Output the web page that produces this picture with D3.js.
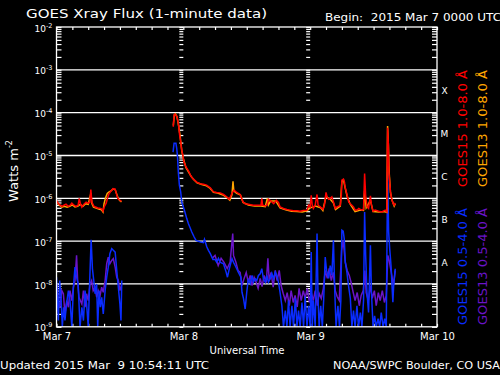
<!DOCTYPE html>
<html lang="en">
<head>
<meta charset="UTF-8">
<title>GOES Xray Flux</title>
<script src="https://d3js.org/d3.v7.min.js"></script>
<style>
  body { margin: 0; background: #000; }
  svg { display: block; }
  text { font-family: "DejaVu Sans", sans-serif; fill: #fff; white-space: pre; }
</style>
</head>
<body>
<div id="chart"></div>
<script>
// [hours after 2015-03-07 00:00 UTC, flux W/m2]; null = data gap
const goes15Long = [[0,9.0e-7],[0.3,7.7e-7],[0.7,6.9e-7],[1.0,6.5e-7],[1.4,6.9e-7],[1.8,7.3e-7],[2.2,6.5e-7],[2.6,6.9e-7],[2.9,7.7e-7],[3.3,6.9e-7],[3.7,6.5e-7],[4.1,6.9e-7],[4.3,1.0e-6],[4.5,7.7e-7],[4.8,6.2e-7],[5.2,7.3e-7],[5.6,8.1e-7],[6.0,7.7e-7],[6.3,8.1e-7],[6.5,1.6e-6],[6.7,8.1e-7],[7.1,6.5e-7],[7.5,6.2e-7],[7.9,5.9e-7],[8.2,5.9e-7],[8.6,5.6e-7],[8.8,5.0e-7],[9.0,6.2e-7],[9.4,7.7e-7],[9.7,1.06e-6],[9.9,1.25e-6],[10.3,1.47e-6],[10.7,1.68e-6],[11.1,1.63e-6],[11.3,1.32e-6],[11.6,1.0e-6],[12.0,9.0e-7],[12.3,8.5e-7],
  [17,null],
  [22.1,4.7e-5],[22.25,8.8e-5],[22.4,9.2e-5],[22.8,8.1e-5],[23.1,5.2e-5],[23.3,3.0e-5],[23.5,2.1e-5],[23.7,1.34e-5],[23.9,1.02e-5],[24.1,7.1e-6],[24.5,5.4e-6],[25.0,4.3e-6],[25.4,3.35e-6],[25.9,2.8e-6],[26.6,2.35e-6],[27.2,2.2e-6],[27.8,2.14e-6],[28.4,2.03e-6],[29.1,1.75e-6],[29.7,1.41e-6],[30.3,1.37e-6],[31.0,1.34e-6],[31.6,1.23e-6],[32.2,1.08e-6],[32.7,9.5e-7],[33.2,1.3e-6],[33.6,1.55e-6],[34.1,1.37e-6],[34.75,1.23e-6],[35.3,8.2e-7],[35.7,7.5e-7],[36.3,7.3e-7],[37.2,6.9e-7],[37.9,6.9e-7],[38.7,6.9e-7],[38.85,1.0e-6],[39.0,6.9e-7],[39.5,6.6e-7],[39.8,6.9e-7],[40.15,9.5e-7],[40.4,9.0e-7],[41.1,7.5e-7],[41.6,9.0e-7],[42.0,8.0e-7],[42.3,6.3e-7],[42.95,5.8e-7],[43.6,5.5e-7],[44.2,5.3e-7],[44.85,5.1e-7],[45.5,5.1e-7],[46.1,5.0e-7],[46.7,5.2e-7],[47.4,5.3e-7],[47.7,6.9e-7],[48.0,6.3e-7],[48.2,1.18e-6],[48.4,6.9e-7],[48.6,5.8e-7],[48.95,6.9e-7],[49.3,1.23e-6],[49.5,6.9e-7],[49.9,6.3e-7],[50.4,5.5e-7],[50.7,6.9e-7],[51.0,1.37e-6],[51.2,1.08e-6],[51.5,9.5e-7],[51.8,1.0e-6],[52.1,1.08e-6],[52.4,8.2e-7],[52.75,5.8e-7],[53.1,6.3e-7],[53.4,6.6e-7],[53.7,6.9e-7],[53.9,1.18e-6],[54.0,2.65e-6],[54.3,2.8e-6],[54.5,2.38e-6],[54.6,1.85e-6],[55.0,1.18e-6],[55.3,8.2e-7],[55.6,7.5e-7],[55.9,6.9e-7],[56.2,6.3e-7],[56.5,5.3e-7],[56.9,5.3e-7],[57.2,5.8e-7],[57.5,5.5e-7],[57.8,5.3e-7],[58.1,5.5e-7],[58.3,3.8e-6],[58.5,1.18e-6],[58.75,6.3e-7],[59.05,5.8e-7],[59.4,1.14e-6],[59.6,6.9e-7],[59.9,5.0e-7],[60.3,5.3e-7],[60.95,5.0e-7],[61.6,4.8e-7],[62.2,5.3e-7],[62.5,4.8e-7],[62.65,4.45e-5],[62.8,1.75e-5],[62.9,4.15e-6],[63.2,1.41e-6],[63.4,9.9e-7],[63.7,7.5e-7],[63.9,6.9e-7],[64.1,7.8e-7]]

const goes13Long = [[0,8.5e-7],[0.5,7.0e-7],[1.0,6.2e-7],[1.5,6.5e-7],[2.0,6.2e-7],[2.5,6.5e-7],[3.0,7.0e-7],[3.5,6.3e-7],[4.0,6.5e-7],[4.5,7.2e-7],[5.0,6.5e-7],[5.5,7.5e-7],[6.0,7.2e-7],[6.5,1.3e-6],[6.7,7.5e-7],[7.0,6.2e-7],[7.5,5.9e-7],[8.0,5.6e-7],[8.5,5.4e-7],[8.8,4.8e-7],[9.0,7.5e-7],[9.3,1.05e-6],[9.6,1.3e-6],[9.9,1.4e-6],[10.3,1.5e-6],[10.7,1.65e-6],[11.1,1.6e-6],[11.4,1.25e-6],[11.7,9.8e-7],[12.0,8.8e-7],[12.3,8.2e-7],
  [17,null],
  [22.1,5.0e-5],[22.3,9.0e-5],[22.5,9.4e-5],[22.8,8.0e-5],[23.1,5.0e-5],[23.4,2.8e-5],[23.7,1.3e-5],[24.0,8.5e-6],[24.5,5.2e-6],[25.0,4.1e-6],[25.5,3.2e-6],[26.0,2.7e-6],[26.6,2.3e-6],[27.5,2.1e-6],[28.4,1.95e-6],[29.1,1.7e-6],[29.7,1.38e-6],[30.5,1.33e-6],[31.5,1.2e-6],[32.2,1.05e-6],[32.8,9.0e-7],[33.2,1.2e-6],[33.4,2.5e-6],[33.55,1.5e-6],[34.1,1.3e-6],[34.8,1.2e-6],[35.3,8.0e-7],[36.3,7.0e-7],[37.5,6.6e-7],[38.7,6.6e-7],[39.5,6.4e-7],[39.9,1.0e-6],[40.1,7.0e-7],[40.5,8.6e-7],[41.5,8.6e-7],[42.3,6.0e-7],[43.5,5.3e-7],[44.5,5.0e-7],[45.5,4.9e-7],[46.5,4.8e-7],[47.4,5.1e-7],[48.0,6.0e-7],[49.0,6.6e-7],[50.0,6.0e-7],[50.4,5.2e-7],[51.0,1.1e-6],[51.8,9.5e-7],[52.4,7.8e-7],[52.8,5.5e-7],[53.7,6.6e-7],[54.0,2.5e-6],[54.3,2.7e-6],[54.6,1.8e-6],[55.0,1.1e-6],[55.6,7.2e-7],[56.5,4.9e-7],[57.5,5.3e-7],[58.1,5.2e-7],[58.3,1.5e-6],[58.6,6.0e-7],[59.4,9.0e-7],[59.9,4.9e-7],[61.0,4.8e-7],[62.0,4.9e-7],[62.5,4.7e-7],[62.65,4.9e-5],[62.8,1.8e-5],[62.95,4.0e-6],[63.2,1.35e-6],[63.5,9.0e-7],[63.9,6.6e-7],[64.1,7.4e-7]]

const goes15Short = [[0,1.44e-8],[0.1,7.0e-9],[0.35,1.4e-9],[0.6,1.2e-8],[0.85,4.9e-9],[1.1,1.0e-9],[1.35,2.86e-9],[1.6,1.4e-9],[1.9,3.4e-9],[2.25,7.0e-9],[2.55,4.1e-9],[2.9,1.0e-9],[3.2,8.4e-9],[3.5,2.47e-8],[3.8,1.44e-8],[4.1,1.0e-8],[4.45,1.0e-9],[4.8,2.86e-9],[5.1,1.4e-9],[5.4,7.0e-9],[5.7,3.4e-9],[6.0,1.0e-9],[6.35,2.07e-8],[6.55,1.08e-7],[6.8,2.27e-8],[7.05,1.2e-8],[7.3,5.9e-9],[7.6,1.0e-8],[7.8,1.0e-9],[8.05,7.0e-9],[8.3,2.86e-9],[8.55,4.9e-9],[8.85,2.0e-9],[9.2,7.0e-9],[9.5,1.44e-8],[9.8,2.47e-8],[10.1,5.1e-8],[10.45,6.7e-8],[10.75,6.1e-8],[11.1,5.55e-8],[11.4,2.07e-8],[11.7,8.4e-9],[12.0,3.4e-9],[12.2,1.4e-9],[12.35,1.2e-8],
  [17,null],
  [22.05,1.2e-5],[22.25,1.92e-5],[22.6,1.92e-5],[22.75,1.47e-5],[22.9,9.3e-6],[23.05,4.15e-6],[23.25,2.03e-6],[23.5,1.41e-6],[23.7,8.2e-7],[24.0,6.3e-7],[24.3,4.8e-7],[24.65,3.36e-7],[24.95,2.57e-7],[25.3,2.03e-7],[25.6,1.63e-7],[26.05,1.25e-7],[26.4,1.04e-7],[26.85,9.9e-8],[27.3,9.5e-8],[27.8,9.2e-8],[28.0,1.1e-7],[28.45,7.3e-8],[28.75,6.1e-8],[29.1,5.1e-8],[29.6,3.75e-8],[30.0,3.75e-8],[30.3,3.24e-8],[30.65,3.96e-8],[30.95,3.24e-8],[31.6,2.97e-8],[32.1,1.89e-8],[32.35,1.44e-8],[32.7,2.27e-8],[33.2,3.9e-8],[33.5,3.2e-8],[33.8,2.7e-8],[34.1,2.27e-8],[34.4,1.89e-8],[34.9,1.44e-8],[35.1,6.4e-9],[35.4,4.5e-9],[35.7,2.6e-9],[36.0,6.4e-9],[36.3,1.32e-8],[36.65,1.03e-8],[37.0,1.58e-8],[37.25,1.1e-8],[37.6,1.32e-8],[37.9,1.2e-8],[38.2,1.58e-8],[38.55,1.73e-8],[38.85,2.27e-8],[39.15,1.32e-8],[39.5,1.1e-8],[39.8,1.58e-8],[40.1,1.1e-8],[40.45,1.32e-8],[40.75,1.76e-8],[41.05,1.32e-8],[41.4,1.89e-8],[41.7,1.58e-8],[42.0,1.1e-8],[42.3,6.4e-9],[42.65,3.1e-9],[42.95,1.0e-9],[43.3,2.4e-9],[43.6,1.0e-9],[43.9,4.1e-9],[44.2,1.0e-9],[44.55,3.1e-9],[44.85,1.0e-9],[45.2,4.6e-9],[45.5,1.0e-9],[45.8,2.4e-9],[46.1,1.0e-9],[46.45,3.7e-9],[46.75,1.0e-9],[47.05,5.1e-9],[47.4,1.0e-9],[47.7,3.1e-9],[48.0,1.0e-9],[48.2,5.55e-8],[48.4,1.0e-9],[48.6,4.1e-9],[48.95,1.0e-9],[49.3,1.5e-7],[49.5,4.1e-9],[49.7,1.0e-9],[50.0,3.1e-9],[50.3,1.0e-9],[50.55,4.1e-9],[50.85,4.25e-8],[51.1,2.07e-8],[51.5,1.35e-8],[51.8,2.7e-8],[52.1,1.58e-8],[52.4,1.05e-7],[52.65,7.0e-9],[52.9,1.0e-9],[53.25,3.1e-9],[53.55,1.0e-9],[53.8,4.1e-9],[54.0,1.79e-7],[54.25,1.7e-7],[54.45,1.14e-7],[54.65,3.24e-8],[54.95,1.89e-8],[55.25,9.2e-9],[55.6,4.6e-9],[55.9,1.0e-9],[56.2,2.4e-9],[56.5,1.0e-9],[56.85,3.1e-9],[57.15,1.0e-9],[57.5,2.15e-9],[57.8,1.0e-9],[58.1,4.1e-9],[58.3,4.8e-7],[58.5,4.65e-8],[58.75,6.3e-9],[59.05,2.15e-9],[59.4,8.0e-8],[59.6,6.3e-9],[59.9,1.0e-9],[60.2,1.8e-9],[60.5,1.0e-9],[60.85,1.55e-9],[61.15,1.0e-9],[61.45,2.15e-9],[61.8,1.0e-9],[62.1,1.55e-9],[62.4,1.0e-9],[62.65,4.15e-6],[62.85,1.63e-7],[63.05,6.7e-8],[63.3,2.7e-8],[63.55,6.4e-9],[63.65,3.75e-9],[63.8,9.2e-9],[64.1,2.27e-8]]

const goes13Short = [[0.05,1.0e-8],[0.35,4.1e-9],[0.65,2.86e-9],[1.0,7.0e-9],[1.3,5.9e-9],[1.6,2.0e-9],[1.95,4.1e-9],[2.25,2.86e-9],[2.55,7.0e-9],[2.9,4.1e-9],[3.2,8.4e-9],[3.5,1.2e-8],[3.8,4.65e-8],[4.0,1.2e-8],[4.25,4.9e-9],[4.8,3.4e-9],[5.1,7.0e-9],[5.4,2.86e-9],[5.7,5.9e-9],[6.0,4.1e-9],[6.35,1.0e-8],[6.65,1.2e-8],[6.95,7.0e-9],[7.3,8.4e-9],[7.6,4.9e-9],[7.9,7.0e-9],[8.25,5.4e-9],[8.55,8.4e-9],[8.85,6.4e-9],[9.2,1.2e-8],[9.5,2.97e-8],[9.8,4.25e-8],[10.1,2.97e-8],[10.45,3.55e-8],[10.75,3.9e-8],[11.1,2.47e-8],[11.4,1.44e-8],[11.7,1.2e-8],[12.0,7.0e-9],[12.35,1.0e-8],
  [20,null],
  [29.45,3.96e-8],[30.0,4.65e-8],[30.6,2.7e-8],[31.15,3.96e-8],[31.7,3.2e-8],[32.3,2.3e-8],[32.85,3.2e-8],[33.35,1.5e-7],[33.5,4.65e-8],[33.95,3.2e-8],[34.35,2.07e-8],[34.75,1.86e-8],[35.1,9.2e-9],[35.5,1.35e-8],[35.9,1.86e-8],[36.3,1.08e-8],[36.65,1.58e-8],[37.0,9.2e-9],[37.4,1.42e-8],[37.8,1.08e-8],[38.15,7.9e-9],[38.55,1.35e-8],[38.9,8.7e-9],[39.3,1.58e-8],[39.7,1.08e-8],[40.0,3.96e-8],[40.25,1.2e-8],[40.6,1.86e-8],[41.0,8.4e-9],[41.4,2.07e-8],[41.75,1.2e-8],[42.15,2.07e-8],[42.5,9.2e-9],[42.9,6.0e-9],[43.3,4.1e-9],[43.65,6.3e-9],[44.05,3.1e-9],[44.4,7.0e-9],[44.8,3.7e-9],[45.15,5.4e-9],[45.55,2.9e-9],[45.9,7.9e-9],[46.3,4.1e-9],[46.7,7.0e-9],[47.05,4.6e-9],[47.45,7.9e-9],[47.85,3.7e-9],[48.2,6.3e-9],[48.6,4.1e-9],[48.95,7.0e-9],[49.35,3.1e-9],[49.7,6.0e-9],[50.1,4.6e-9],[50.5,7.9e-9],[50.85,2.07e-8],[51.25,1.35e-8],[51.6,2.3e-8],[52.0,1.2e-8],[52.35,1.86e-8],[52.75,7.0e-9],[53.1,5.1e-9],[53.5,4.1e-9],[53.95,6.1e-8],[54.25,1.04e-7],[54.65,3.2e-8],[55.0,2.07e-8],[55.4,1.58e-8],[55.75,1.08e-8],[56.15,6.3e-9],[56.5,4.1e-9],[56.9,6.3e-9],[57.3,3.1e-9],[57.65,5.4e-9],[58.05,7.0e-9],[58.35,2.07e-8],[58.6,6.3e-9],[59.0,4.1e-9],[59.4,9.2e-9],[59.75,4.6e-9],[60.15,7.0e-9],[60.5,3.1e-9],[60.9,6.3e-9],[61.25,4.1e-9],[61.65,7.0e-9],[62.05,3.7e-9],[62.4,5.4e-9],[62.7,4.65e-8],[62.95,3.55e-8],[63.35,1.86e-8],[63.75,9.2e-9],[64.1,2.07e-8]]

const dayLabels = ["Mar 7", "Mar 8", "Mar 9", "Mar 10"]
const classLetters = ["A", "B", "C", "M", "X"]
const legendItems = [
  {name: "GOES15 1.0-8.0 \u00c5", color: "#ff0000"},
  {name: "GOES13 1.0-8.0 \u00c5", color: "#ffa500"},
  {name: "GOES15 0.5-4.0 \u00c5", color: "#0a2cff"},
  {name: "GOES13 0.5-4.0 \u00c5", color: "#6a14c8"}
]

const width = 500, height = 375
const x0 = 56.5, x1 = 437, y0 = 27, y1 = 326.8
const start = Date.UTC(2015, 2, 7)
const toDate = h => new Date(start + h * 3600e3)

const x = d3.scaleUtc().domain([toDate(0), toDate(72)]).range([x0, x1])
const y = d3.scaleLog().domain([1e-9, 1e-2]).range([y1, y0])

const decades = d3.range(-9, -1).map(k => Math.pow(10, k))
const minorTicks = d3.range(-9, -2).flatMap(k => d3.range(1, 10).map(m => m * Math.pow(10, k))).concat([1e-2])

const svg = d3.select("#chart").append("svg")
  .attr("width", width).attr("height", height)
  .style("background", "#000")

svg.append("defs").append("clipPath").attr("id", "plot")
  .append("rect").attr("x", x0).attr("y", y0).attr("width", x1 - x0).attr("height", y1 - y0)

// grid lines
svg.append("g").selectAll("line")
  .data(decades.filter(d => d > 1e-9 && d < 1e-2))
  .enter().append("line")
  .attr("x1", x0).attr("x2", x1)
  .attr("y1", d => y(d)).attr("y2", d => y(d))
  .attr("stroke", "#fff").attr("stroke-width", 1.3)

function styleAxis(g) {
  g.select(".domain").remove()
  g.selectAll(".tick line").attr("stroke", "#fff").attr("stroke-width", 1.2)
}

// left / right minor ticks
svg.append("g").attr("transform", `translate(${x0},0)`)
  .call(d3.axisLeft(y).tickValues(minorTicks).tickSize(-5).tickFormat(""))
  .call(styleAxis)
svg.append("g").attr("transform", `translate(${x1},0)`)
  .call(d3.axisRight(y).tickValues(minorTicks).tickSize(-5).tickFormat(""))
  .call(styleAxis)

// tick columns at the day boundaries
;[toDate(24), toDate(48)].forEach(d => {
  svg.append("g").attr("transform", `translate(${x(d)},0)`)
    .call(d3.axisLeft(y).tickValues(minorTicks).tickSize(4).tickFormat(""))
    .call(styleAxis)
})

// decade labels
const gLab = svg.append("g").attr("transform", `translate(${x0},0)`)
  .call(d3.axisLeft(y).tickValues(decades).tickSize(0).tickPadding(4).tickFormat(""))
gLab.select(".domain").remove()
gLab.selectAll(".tick text").attr("font-size", 9).attr("dy", "0.45em")
  .each(function(d) {
    const t = d3.select(this)
    t.append("tspan").text("10")
    t.append("tspan").attr("font-size", 6.5).attr("dy", -4).text(Math.round(Math.log10(d)))
  })

// time axes
svg.append("g").attr("transform", `translate(0,${y0})`)
  .call(d3.axisTop(x).ticks(d3.utcHour.every(3)).tickSize(-3).tickFormat(""))
  .call(styleAxis)
const gBot = svg.append("g").attr("transform", `translate(0,${y1})`)
  .call(d3.axisBottom(x).ticks(d3.utcHour.every(3)).tickSize(-3).tickPadding(6.5)
    .tickFormat(d => d.getUTCHours() === 0 ? dayLabels[Math.round((d - start) / 864e5)] : ""))
  .call(styleAxis)
gBot.selectAll(".tick text").attr("font-size", 10).attr("font-family", "DejaVu Sans").attr("fill", "#fff")

// series
const line = d3.line()
  .defined(d => d[1] != null)
  .x(d => x(toDate(d[0])))
  .y(d => y(d[1]))

const plot = svg.append("g").attr("clip-path", "url(#plot)")
const series = [
  {data: goes13Short, color: legendItems[3].color},
  {data: goes15Short, color: legendItems[2].color},
  {data: goes13Long, color: legendItems[1].color},
  {data: goes15Long, color: legendItems[0].color}
]
plot.selectAll("path").data(series).enter().append("path")
  .attr("d", d => line(d.data))
  .attr("fill", "none")
  .attr("stroke", d => d.color)
  .attr("stroke-width", 1.5)
  .attr("stroke-linejoin", "miter")

// frame
svg.append("rect").attr("x", x0).attr("y", y0).attr("width", x1 - x0).attr("height", y1 - y0)
  .attr("fill", "none").attr("stroke", "#fff").attr("stroke-width", 1.3)

// flare classes
svg.append("g").selectAll("text").data(classLetters).enter().append("text")
  .attr("x", 444.5)
  .attr("y", (d, i) => y(Math.pow(10, -7.5 + i)))
  .attr("dy", "0.35em")
  .attr("text-anchor", "middle")
  .attr("font-size", 9)
  .text(d => d)

// legend
svg.append("g").selectAll("text").data(legendItems).enter().append("text")
  .attr("transform", (d, i) => `translate(${i % 2 ? 487 : 467},${i < 2 ? 187 : 325}) rotate(-90)`)
  .attr("font-size", 12)
  .attr("textLength", 117).attr("lengthAdjust", "spacingAndGlyphs")
  .style("fill", d => d.color)
  .text(d => d.name)

// titles
svg.append("text").attr("x", 26).attr("y", 18).attr("font-size", 12.5)
  .attr("textLength", 241).attr("lengthAdjust", "spacingAndGlyphs")
  .text("GOES Xray Flux (1-minute data)")
svg.append("text").attr("x", 325).attr("y", 20.5).attr("font-size", 10.5)
  .attr("textLength", 176).attr("lengthAdjust", "spacingAndGlyphs")
  .text("Begin:  2015 Mar 7 0000 UTC")

const yl = svg.append("text").attr("transform", "translate(18,171) rotate(-90)")
  .attr("text-anchor", "middle").attr("font-size", 13)
yl.append("tspan").text("Watts m")
yl.append("tspan").attr("font-size", 8).attr("dy", -6).text("-2")

svg.append("text").attr("x", 247).attr("y", 354).attr("text-anchor", "middle")
  .attr("font-size", 10).attr("textLength", 75).attr("lengthAdjust", "spacingAndGlyphs")
  .text("Universal Time")
svg.append("text").attr("x", 0).attr("y", 369).attr("font-size", 10)
  .attr("textLength", 209).attr("lengthAdjust", "spacingAndGlyphs")
  .text("Updated 2015 Mar  9 10:54:11 UTC")
svg.append("text").attr("x", 333).attr("y", 369).attr("font-size", 10)
  .attr("textLength", 167).attr("lengthAdjust", "spacingAndGlyphs")
  .text("NOAA/SWPC Boulder, CO USA")
</script>
</body>
</html>
